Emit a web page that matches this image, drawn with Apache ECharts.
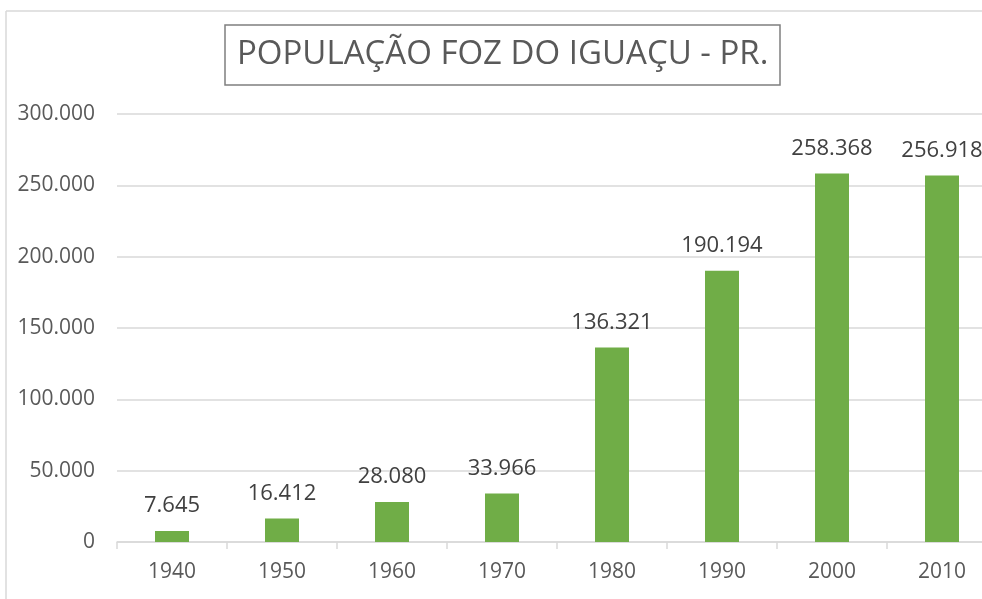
<!DOCTYPE html>
<html>
<head>
<meta charset="utf-8">
<script src="https://cdn.jsdelivr.net/npm/echarts@6/dist/echarts.min.js"></script>
<style>
  html, body { margin: 0; padding: 0; background: #fff; }
  #chart { width: 982px; height: 599px; }
</style>
</head>
<body>
<div id="chart"></div>
<script>
// dados
const anos = ['1940', '1950', '1960', '1970', '1980', '1990', '2000', '2010']
const populacao = [7645, 16412, 28080, 33966, 136321, 190194, 258368, 256918]
const yMax = 300000
const yStep = 50000

// 258368 -> "258.368"
function pontoMilhar(v) {
  return String(v).replace(/\B(?=(\d{3})+(?!\d))/g, '.')
}

const fonte = 'Open Sans, Noto Sans, sans-serif'
const chart = echarts.init(document.getElementById('chart'))
chart.setOption({
  backgroundColor: '#fff',
  animation: false,
  // borda do grafico (cortada a direita)
  graphic: [
    { type: 'line', shape: { x1: 6, y1: 11, x2: 982, y2: 11 }, style: { stroke: '#d9d9d9', lineWidth: 1.5 } },
    { type: 'line', shape: { x1: 6, y1: 11, x2: 6, y2: 599 }, style: { stroke: '#d9d9d9', lineWidth: 1.5 } }
  ],
  title: {
    text: 'POPULAÇÃO FOZ DO IGUAÇU - PR.',
    left: 225,
    top: 25,
    padding: [12, 12, 12, 12],
    borderWidth: 1.5,
    borderColor: '#7f7f7f',
    textStyle: {
      color: '#595959',
      fontSize: 33,
      lineHeight: 36,
      fontWeight: 'normal',
      fontFamily: fonte
    }
  },
  grid: {
    left: 117,
    top: 114,
    width: 880,
    height: 428,
    outerBoundsMode: 'none',
    containLabel: false
  },
  xAxis: {
    type: 'category',
    data: anos,
    axisLine: { lineStyle: { color: '#d9d9d9', width: 1.5 } },
    axisTick: { show: true, length: 7, lineStyle: { color: '#d9d9d9', width: 1.5 } },
    axisLabel: { color: '#595959', fontSize: 21, margin: 20, fontFamily: fonte }
  },
  yAxis: {
    type: 'value',
    min: 0,
    max: yMax,
    interval: yStep,
    axisLine: { show: false },
    axisTick: { show: false },
    splitLine: { lineStyle: { color: '#d9d9d9', width: 1.5 } },
    axisLabel: {
      color: '#595959',
      fontSize: 21,
      margin: 22,
      fontFamily: fonte,
      formatter: pontoMilhar
    }
  },
  series: [{
    type: 'bar',
    data: populacao,
    barWidth: 34,
    itemStyle: { color: '#70ad47' },
    label: {
      show: true,
      position: 'top',
      distance: 14,
      color: '#404040',
      fontSize: 22,
      fontFamily: fonte,
      formatter: p => pontoMilhar(p.value)
    }
  }]
})
</script>
</body>
</html>
